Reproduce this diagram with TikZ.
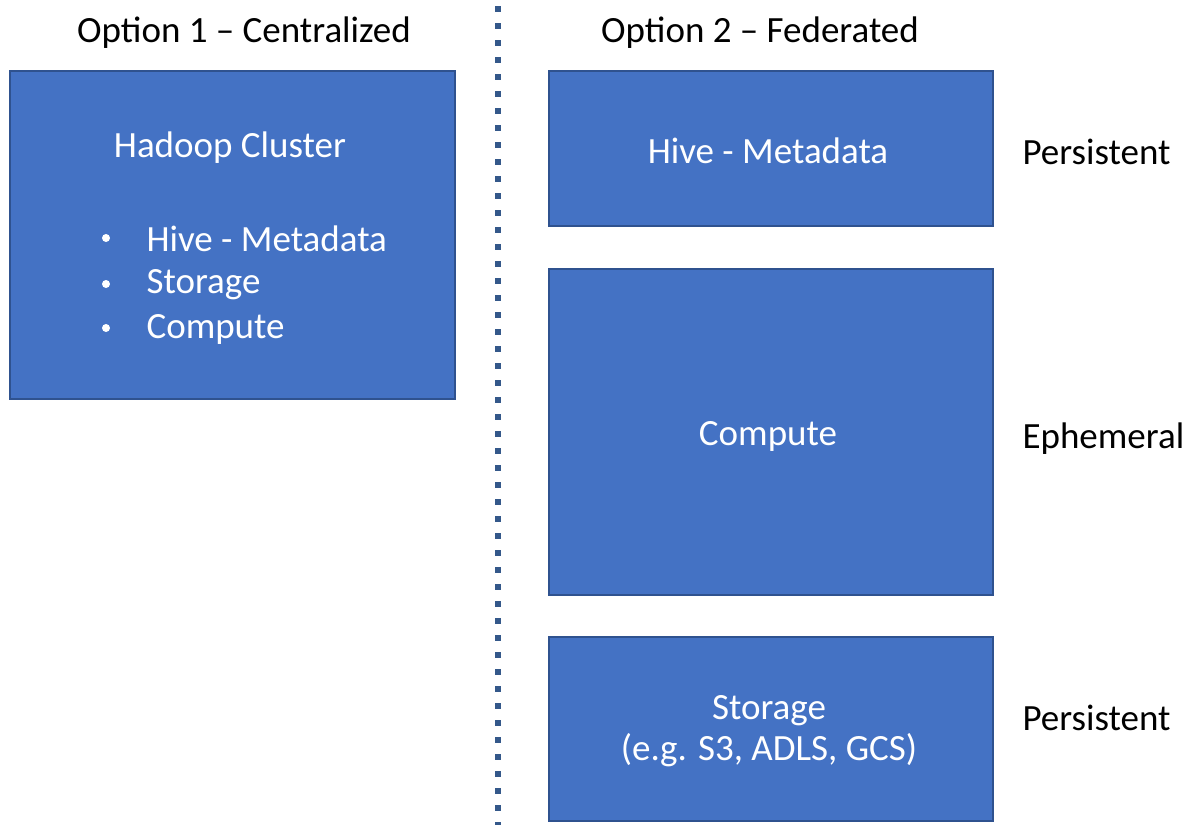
\documentclass[tikz,border=0pt]{standalone}
\usepackage{fontspec}
\setmainfont{Carlito}
\usetikzlibrary{positioning}
\definecolor{boxfill}{RGB}{68,114,196}
\definecolor{boxline}{RGB}{47,82,143}
\definecolor{sepline}{RGB}{52,88,138}

\begin{document}
\begin{tikzpicture}[x=1pt, y=-1pt,
    every node/.style={font=\fontsize{37}{44}\selectfont},
    box/.style={draw=boxline, line width=1.5pt, fill=boxfill, anchor=north west, inner sep=0pt},
    intext/.style={text=white, align=center},
    label/.style={anchor=west, text=black}]
  \useasboundingbox (0,0) rectangle (1196,825);
  % Separator
  \coordinate (septop) at (498,6);
  \coordinate (sepbot) at (498,825);
  \draw[sepline, line width=6pt, dash pattern=on 6pt off 11pt] (septop) -- (sepbot);
  % Headings
  \node (opt1) at (244,33) {Option 1 -- Centralized};
  \node (opt2) at (760,33) {Option 2 -- Federated};
  % Option 1 box
  \node[box, minimum width=445, minimum height=328] (cluster) at (9,70) {};
  \node[intext] (clustertitle) at (230,148) {Hadoop Cluster};
  \node[intext, anchor=west] (item1) at (143,239) {Hive - Metadata};
  \node[intext, anchor=west] (item2) at (143,285) {Storage};
  \node[intext, anchor=west] (item3) at (143,329) {Compute};
  \foreach \yy in {238,284,328}
    \fill[white] (106,\yy) circle (4);
  % Option 2 boxes
  \node[box, minimum width=444, minimum height=155] (hive) at (548,70) {};
  \node[intext] (hivetext) at (768,151) {Hive - Metadata};
  \node[box, minimum width=444, minimum height=326] (compute) at (548,268) {};
  \node[intext] (computetext) at (768,436) {Compute};
  \node[box, minimum width=444, minimum height=184] (storage) at (548,636) {};
  \node[intext] (storagetext) at (769,731) {Storage\\[-3pt](e.g. S3, ADLS, GCS)};
  % Side labels
  \node[label] (persist1) at (1019,152) {Persistent};
  \node[label] (ephem) at (1019,439) {Ephemeral};
  \node[label] (persist2) at (1019,718) {Persistent};
\end{tikzpicture}
\end{document}
